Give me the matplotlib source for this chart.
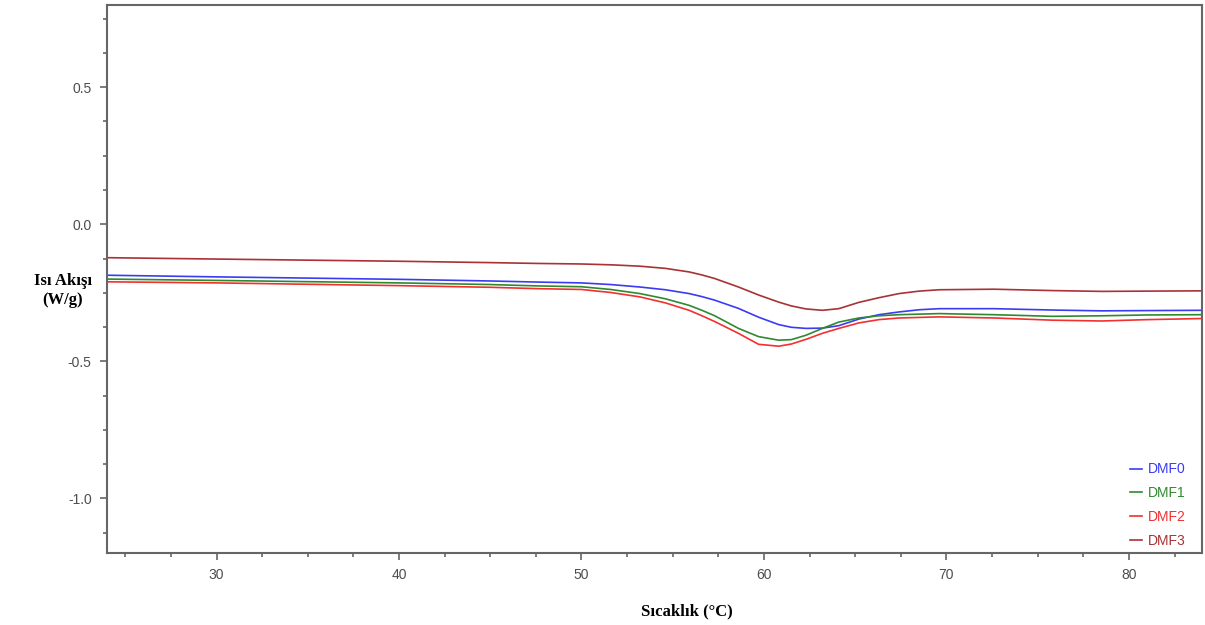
import matplotlib.pyplot as plt
from matplotlib.ticker import MultipleLocator

# Sicaklik (°C) noktalari
sicaklik = [24, 30, 40, 45, 47.6, 50, 51.6, 53.2, 54.6, 55.9, 56.6, 57.3,
            58.6, 59.7, 60.8, 61.5, 62.3, 63.2, 64.1, 65.2, 66.3, 67.4, 68.5,
            69.6, 72.6, 75.8, 78.5, 81, 84]

dmf0 = [-0.186, -0.192, -0.201, -0.207, -0.211, -0.214, -0.220, -0.229,
        -0.239, -0.253, -0.264, -0.277, -0.307, -0.339, -0.366, -0.376,
        -0.380, -0.379, -0.370, -0.346, -0.330, -0.320, -0.312, -0.308,
        -0.308, -0.313, -0.316, -0.315, -0.314]
dmf1 = [-0.200, -0.205, -0.214, -0.220, -0.225, -0.228, -0.238, -0.253,
        -0.272, -0.296, -0.314, -0.334, -0.380, -0.410, -0.423, -0.421,
        -0.405, -0.380, -0.357, -0.342, -0.334, -0.330, -0.328, -0.326,
        -0.330, -0.336, -0.334, -0.331, -0.330]
dmf2 = [-0.210, -0.214, -0.224, -0.230, -0.235, -0.238, -0.249, -0.265,
        -0.287, -0.314, -0.334, -0.355, -0.398, -0.438, -0.445, -0.437,
        -0.420, -0.398, -0.380, -0.360, -0.348, -0.342, -0.340, -0.338,
        -0.342, -0.350, -0.353, -0.348, -0.344]
dmf3 = [-0.122, -0.127, -0.135, -0.140, -0.143, -0.145, -0.148, -0.153,
        -0.161, -0.174, -0.185, -0.198, -0.229, -0.258, -0.284, -0.298,
        -0.309, -0.314, -0.308, -0.285, -0.268, -0.253, -0.244, -0.239,
        -0.237, -0.242, -0.245, -0.244, -0.243]

etiketler = ["DMF0", "DMF1", "DMF2", "DMF3"]
renkler = ["#3b3bf5", "#2f8a2f", "#f23030", "#a83236"]

fig = plt.figure(figsize=(12.05, 6.25), dpi=100)
ax = fig.add_axes([0.0888, 0.115, 0.9087, 0.877])

for seri, etiket, renk in zip([dmf0, dmf1, dmf2, dmf3], etiketler, renkler):
    ax.plot(sicaklik, seri, color=renk, linewidth=1.2, label=etiket,
            solid_joinstyle='round')

ax.set_xlim(24, 84)
ax.set_ylim(-1.2, 0.8)
ax.xaxis.set_major_locator(MultipleLocator(10))
ax.xaxis.set_minor_locator(MultipleLocator(2.5))
ax.yaxis.set_major_locator(MultipleLocator(0.5))
ax.yaxis.set_minor_locator(MultipleLocator(0.125))
ax.yaxis.set_major_formatter(plt.FormatStrFormatter('%.1f'))

siva = "#666666"
for spine in ax.spines.values():
    spine.set_color(siva)
    spine.set_linewidth(1.5)
ax.tick_params(which='major', length=5, width=1.2, color=siva,
               labelcolor="#4d4d4d", labelsize=10, pad=6)
ax.tick_params(which='minor', length=3, width=1.2, color=siva)
for t in ax.get_xticklabels() + ax.get_yticklabels():
    t.set_fontfamily("Liberation Sans")

leg = ax.legend(loc='lower right', bbox_to_anchor=(0.99, 0.0),
                frameon=False, handlelength=0.9, handletextpad=0.4,
                labelspacing=0.7, labelcolor='linecolor', borderaxespad=0,
                prop={'family': 'Liberation Sans', 'size': 10})

fig.text(0.052, 0.535, "Isı Akışı\n(W/g)", ha='center', va='center',
         fontsize=12, fontweight='bold', family='Liberation Serif')
fig.text(0.57, 0.022, "Sıcaklık (°C)", ha='center', va='center',
         fontsize=12, fontweight='bold', family='Liberation Serif')

fig.savefig("out.png", dpi=100)
